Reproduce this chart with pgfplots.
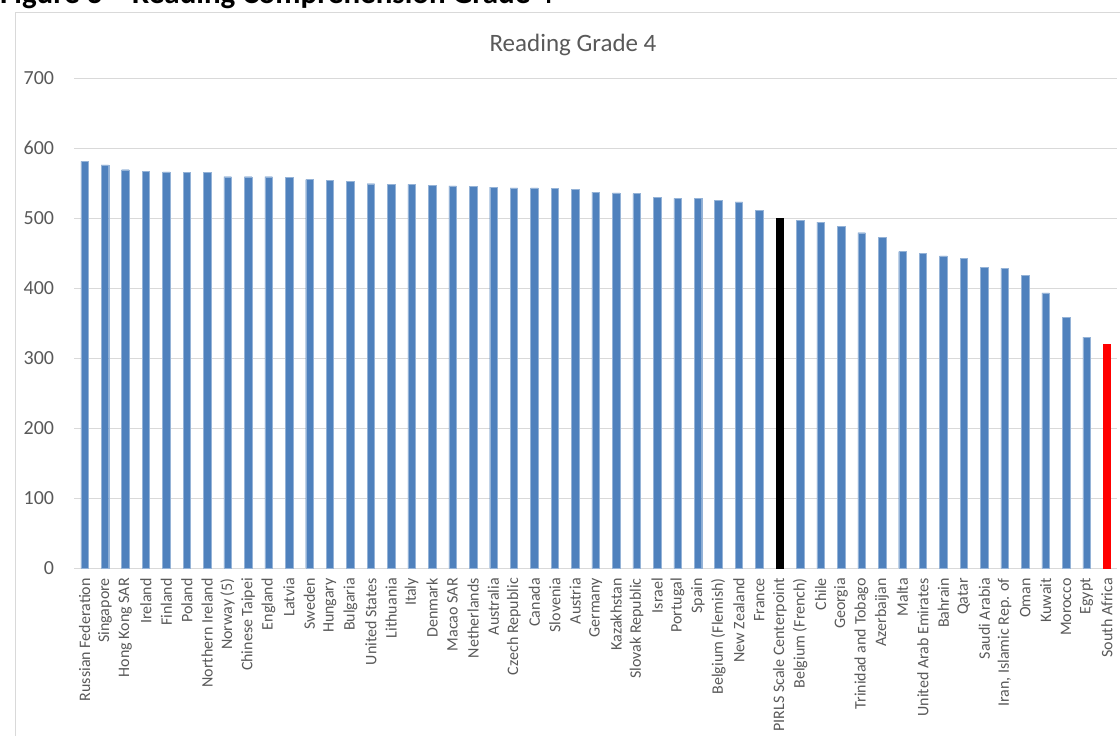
\documentclass[border=0pt]{standalone}
\usepackage{pgfplots}
\pgfplotsset{compat=1.18}
\usepackage{fontspec}
\setmainfont{Carlito}
\definecolor{barblue}{HTML}{4F81BD}
\definecolor{txtgray}{HTML}{595959}
\definecolor{gridgray}{HTML}{D9D9D9}
\definecolor{bordergray}{HTML}{D9D9D9}
\begin{document}
\begin{tikzpicture}
\useasboundingbox (0pt,0pt) rectangle (1120pt,-736pt);
\node[anchor=base west,inner sep=0pt,font=\fontsize{31pt}{33pt}\selectfont\bfseries] at (0pt,-4pt) {Figure 3 – Reading Comprehension Grade 4};
\draw[bordergray,line width=1pt] (15.5pt,-760pt) -- (15.5pt,-12pt) -- (1140pt,-12pt);
\node[anchor=base,inner sep=0pt,text=txtgray,font=\fontsize{25pt}{27pt}\selectfont] at (573pt,-51pt) {Reading Grade 4};
\begin{axis}[
  at={(74.3pt,-568pt)}, anchor=south west,
  scale only axis, width=1042.9pt, height=490pt,
  xmin=-0.5, xmax=50.5, ymin=0, ymax=700,
  ytick={0,100,...,700},
  xtick={0,...,50},
  xticklabels={Russian Federation,Singapore,Hong Kong SAR,Ireland,Finland,Poland,Northern Ireland,Norway (5),Chinese Taipei,England,Latvia,Sweden,Hungary,Bulgaria,United States,Lithuania,Italy,Denmark,Macao SAR,Netherlands,Australia,Czech Republic,Canada,Slovenia,Austria,Germany,Kazakhstan,Slovak Republic,Israel,Portugal,Spain,Belgium (Flemish),New Zealand,France,PIRLS Scale Centerpoint,Belgium (French),Chile,Georgia,Trinidad and Tobago,Azerbaijan,Malta,United Arab Emirates,Bahrain,Qatar,Saudi Arabia,{Iran, Islamic Rep. of},Oman,Kuwait,Morocco,Egypt,South Africa},
  xticklabel style={rotate=90,anchor=east,inner sep=0pt,xshift=-10pt,text=txtgray,font=\fontsize{16pt}{18pt}\selectfont},
  yticklabel style={anchor=east,inner sep=0pt,xshift=-20pt,text=txtgray,font=\fontsize{20pt}{22pt}\selectfont},
  /pgf/number format/assume math mode=true,
  major tick length=0pt,
  ymajorgrids, grid style={gridgray,line width=1pt},
  axis x line*=bottom, axis y line*=left,
  x axis line style={gridgray,line width=1pt,-},
  y axis line style={draw=none},
  ybar, bar width=7.5pt, bar shift=0pt,
  clip=false,
]
\addplot[fill=barblue,draw=barblue!60] coordinates {
(0,581) (1,576) (2,569) (3,567) (4,566) (5,565) (6,565) (7,559) (8,559) (9,559)
(10,558) (11,555) (12,554) (13,552) (14,549) (15,548) (16,548) (17,547) (18,546) (19,545)
(20,544) (21,543) (22,543) (23,542) (24,541) (25,537) (26,536) (27,535) (28,530) (29,528)
(30,528) (31,525) (32,523) (33,511) (35,497) (36,494) (37,488) (38,479) (39,472)
(40,452) (41,450) (42,446) (43,442) (44,430) (45,428) (46,418) (47,393) (48,358) (49,330)
};
\addplot[fill=black,draw=black] coordinates {(34,500)};
\addplot[fill=red,draw=red] coordinates {(50,320)};
\end{axis}
\end{tikzpicture}
\end{document}
